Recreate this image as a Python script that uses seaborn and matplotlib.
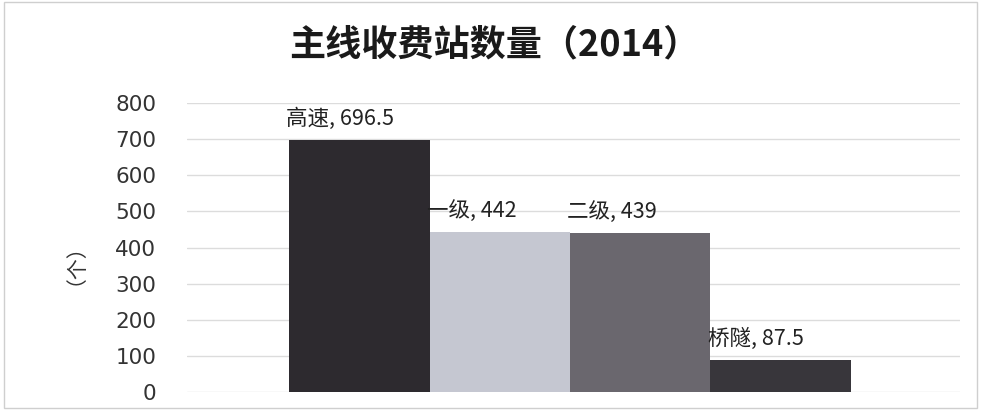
import matplotlib
matplotlib.use("Agg")
import matplotlib.pyplot as plt
import seaborn as sns
import pandas as pd
from matplotlib.patches import Rectangle

categories = ["高速", "一级", "二级", "桥隧"]
values = [696.5, 442, 439, 87.5]
value_labels = ["696.5", "442", "439", "87.5"]
colors = ["#2d2a2f", "#c5c7d1", "#6a676e", "#38363b"]
yticks = [0, 100, 200, 300, 400, 500, 600, 700, 800]

sns.set_theme(style="white")
plt.rcParams["font.family"] = ["Noto Sans CJK SC", "DejaVu Sans"]

df = pd.DataFrame({"cat": categories, "val": values})

fig = plt.figure(figsize=(9.83, 4.12), dpi=100)
ax = fig.add_axes([0.190, 0.0485, 0.787, 0.7015])

sns.barplot(data=df, x="cat", y="val", hue="cat", palette=colors,
            width=1.0, legend=False, ax=ax, saturation=1, linewidth=0)

ax.set_ylim(0, 800)
ax.set_xlim(-1.23, 4.28)
ax.set_yticks(yticks)
ax.set_yticklabels([str(t) for t in yticks], fontsize=15.5, color="#333333",
                   family=["DejaVu Sans"])
ax.set_xticks([])
ax.set_xlabel("")
ax.set_ylabel("")
ax.yaxis.grid(True, color="#dcdcdc", linewidth=1)
ax.set_axisbelow(True)
for s in ax.spines.values():
    s.set_visible(False)
ax.tick_params(axis="y", length=0, pad=22)

fig.text(0.066, 0.385, "（个）", rotation=90, ha="center", va="center",
         fontsize=15, color="#333333")

for i, (c, v, vl) in enumerate(zip(categories, values, value_labels)):
    ax.text(i - 0.52, v + 28, f"{c}, {vl}", ha="left", va="bottom",
            fontsize=15.5, color="#222222")

fig.text(0.503, 0.89, "主线收费站数量（2014）", ha="center", va="center",
         fontsize=26, fontweight="bold", color="#1a1a1a")

fig.patches.append(Rectangle((0.004, 0.01), 0.99, 0.985, transform=fig.transFigure,
                             fill=False, edgecolor="#cfcfcf", linewidth=1))

fig.savefig("out.png", dpi=100)
